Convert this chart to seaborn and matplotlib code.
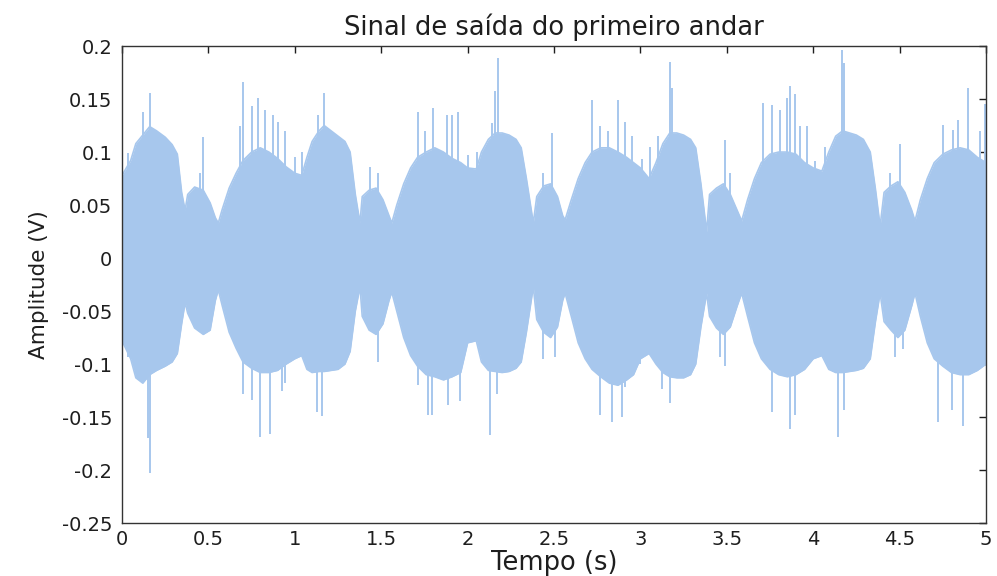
import numpy as np
import pandas as pd
import matplotlib
matplotlib.use("Agg")
import matplotlib.pyplot as plt
import seaborn as sns

# Envelope of the first-stage output signal (seconds, volts)
env_t = [
    0.00, 0.05, 0.08, 0.12, 0.16, 0.20, 0.25, 0.29, 0.32, 0.345, 0.365, 0.38, 0.42, 0.47, 0.51, 0.54, 0.557,
    0.58, 0.62, 0.66, 0.70, 0.75, 0.80, 0.85, 0.90, 0.95,
    1.00, 1.04, 1.07, 1.10, 1.14, 1.17, 1.21, 1.25, 1.29, 1.32, 1.35, 1.377, 1.39, 1.43, 1.47, 1.51, 1.545, 1.561,
    1.59, 1.63, 1.67, 1.71, 1.76, 1.81, 1.86, 1.91, 1.96,
    2.00, 2.05, 2.08, 2.12, 2.16, 2.20, 2.24, 2.28, 2.31, 2.34, 2.38, 2.40, 2.44, 2.48, 2.52, 2.55, 2.564,
    2.60, 2.64, 2.68, 2.72, 2.77, 2.82, 2.87, 2.92, 2.96,
    3.00, 3.05, 3.09, 3.13, 3.17, 3.21, 3.25, 3.29, 3.32, 3.35, 3.383, 3.40, 3.44, 3.48, 3.52, 3.56, 3.586,
    3.62, 3.66, 3.70, 3.75, 3.80, 3.85, 3.90, 3.95,
    4.00, 4.05, 4.09, 4.13, 4.17, 4.21, 4.25, 4.29, 4.33, 4.36, 4.387, 4.41, 4.45, 4.49, 4.53, 4.57, 4.589,
    4.62, 4.66, 4.70, 4.75, 4.80, 4.85, 4.90, 4.95, 5.00,
]
env_hi = [
    0.078, 0.092, 0.108, 0.116, 0.124, 0.120, 0.114, 0.107, 0.098, 0.062, 0.045, 0.060, 0.067, 0.064, 0.052, 0.038, 0.033,
    0.046, 0.066, 0.080, 0.092, 0.100, 0.104, 0.100, 0.094, 0.086,
    0.080, 0.078, 0.095, 0.110, 0.120, 0.125, 0.120, 0.115, 0.110, 0.100, 0.060, 0.033, 0.058, 0.064, 0.066, 0.055, 0.040, 0.033,
    0.050, 0.070, 0.085, 0.095, 0.100, 0.104, 0.100, 0.094, 0.090,
    0.085, 0.084, 0.100, 0.112, 0.118, 0.118, 0.116, 0.112, 0.104, 0.075, 0.033, 0.058, 0.068, 0.070, 0.058, 0.040, 0.036,
    0.055, 0.075, 0.090, 0.100, 0.104, 0.104, 0.100, 0.095, 0.090,
    0.085, 0.075, 0.090, 0.108, 0.118, 0.118, 0.116, 0.112, 0.104, 0.070, 0.025, 0.060, 0.066, 0.070, 0.060, 0.045, 0.035,
    0.055, 0.075, 0.090, 0.098, 0.100, 0.100, 0.098, 0.090,
    0.085, 0.082, 0.100, 0.115, 0.120, 0.118, 0.116, 0.112, 0.100, 0.065, 0.030, 0.062, 0.068, 0.072, 0.062, 0.045, 0.035,
    0.055, 0.075, 0.090, 0.098, 0.102, 0.104, 0.102, 0.095, 0.090,
]
env_lo = [
    -0.078, -0.095, -0.113, -0.118, -0.110, -0.106, -0.102, -0.098, -0.090, -0.062, -0.042, -0.052, -0.066, -0.072, -0.068, -0.040, -0.030,
    -0.045, -0.070, -0.085, -0.098, -0.104, -0.108, -0.108, -0.106, -0.100,
    -0.095, -0.092, -0.105, -0.108, -0.107, -0.107, -0.106, -0.105, -0.100, -0.088, -0.050, -0.027, -0.055, -0.068, -0.072, -0.062, -0.040, -0.032,
    -0.050, -0.075, -0.092, -0.102, -0.110, -0.112, -0.115, -0.112, -0.108,
    -0.080, -0.078, -0.098, -0.106, -0.107, -0.108, -0.107, -0.104, -0.098, -0.070, -0.027, -0.058, -0.070, -0.075, -0.065, -0.040, -0.033,
    -0.055, -0.080, -0.095, -0.105, -0.112, -0.118, -0.120, -0.115, -0.110,
    -0.095, -0.090, -0.100, -0.108, -0.112, -0.113, -0.113, -0.110, -0.100, -0.065, -0.033, -0.055, -0.066, -0.072, -0.065, -0.045, -0.033,
    -0.055, -0.080, -0.095, -0.105, -0.110, -0.112, -0.110, -0.105,
    -0.095, -0.092, -0.105, -0.108, -0.108, -0.107, -0.106, -0.104, -0.095, -0.060, -0.033, -0.060, -0.068, -0.075, -0.068, -0.045, -0.033,
    -0.055, -0.080, -0.095, -0.102, -0.108, -0.110, -0.110, -0.106, -0.100,
]

# Isolated peaks rising above the envelope
peak_up_t = [
    0.037, 0.123, 0.162, 0.451, 0.470, 0.683, 0.702, 0.750, 0.789, 0.828, 0.876, 0.905, 0.943,
    1.000, 1.040, 1.136, 1.171, 1.435, 1.483, 1.715, 1.753, 1.800, 1.879, 1.908, 1.947,
    2.004, 2.052, 2.139, 2.158, 2.174, 2.438, 2.487, 2.718, 2.766, 2.814, 2.872, 2.911,
    2.950, 3.007, 3.056, 3.104, 3.171, 3.180, 3.490, 3.519, 3.711, 3.759, 3.807, 3.846, 3.866, 3.895,
    3.924, 3.962, 4.010, 4.068, 4.165, 4.180, 4.444, 4.502, 4.753, 4.811, 4.840, 4.894, 4.966, 4.995,
]
peak_up_v = [
    0.099, 0.138, 0.156, 0.080, 0.114, 0.125, 0.166, 0.143, 0.151, 0.140, 0.135, 0.128, 0.120,
    0.095, 0.100, 0.135, 0.156, 0.086, 0.080, 0.138, 0.120, 0.142, 0.135, 0.135, 0.138,
    0.097, 0.100, 0.127, 0.158, 0.189, 0.080, 0.118, 0.149, 0.125, 0.120, 0.149, 0.128,
    0.115, 0.093, 0.105, 0.115, 0.185, 0.160, 0.111, 0.080, 0.146, 0.144, 0.140, 0.151, 0.162, 0.155,
    0.125, 0.125, 0.092, 0.105, 0.196, 0.184, 0.080, 0.108, 0.126, 0.121, 0.130, 0.160, 0.120, 0.145,
]
peak_dn_t = [
    0.037, 0.152, 0.162, 0.702, 0.750, 0.798, 0.856, 0.924, 0.943,
    1.127, 1.156, 1.479, 1.715, 1.773, 1.792, 1.889, 1.957,
    2.130, 2.168, 2.438, 2.505, 2.766, 2.833, 2.891, 2.911,
    2.998, 3.123, 3.171, 3.460, 3.490, 3.759, 3.866, 3.895,
    4.141, 4.180, 4.473, 4.521, 4.724, 4.801, 4.868,
]
peak_dn_v = [
    -0.093, -0.170, -0.203, -0.128, -0.134, -0.169, -0.166, -0.125, -0.118,
    -0.145, -0.149, -0.098, -0.120, -0.148, -0.148, -0.139, -0.135,
    -0.167, -0.128, -0.095, -0.093, -0.148, -0.155, -0.150, -0.122,
    -0.100, -0.124, -0.137, -0.093, -0.102, -0.145, -0.161, -0.148,
    -0.169, -0.143, -0.093, -0.086, -0.155, -0.143, -0.158,
]

x_ticks = [0, 0.5, 1, 1.5, 2, 2.5, 3, 3.5, 4, 4.5, 5]
x_labels = ["0", "0.5", "1", "1.5", "2", "2.5", "3", "3.5", "4", "4.5", "5"]
y_ticks = [-0.25, -0.2, -0.15, -0.1, -0.05, 0, 0.05, 0.1, 0.15, 0.2]
y_labels = ["-0.25", "-0.2", "-0.15", "-0.1", "-0.05", "0", "0.05", "0.1", "0.15", "0.2"]

sns.set_theme(style="white")
plt.rcParams["font.family"] = ["DejaVu Sans"]

color = "#a7c7ed"
ink = "#1e1e1e"

fig = plt.figure(figsize=(9.97, 5.76), dpi=100)
ax = fig.add_axes([0.1224, 0.092, 0.8666, 0.828])

env = pd.DataFrame({"t": env_t, "hi": env_hi, "lo": env_lo})
ax.fill_between(env["t"], env["lo"], env["hi"], color=color, linewidth=0)
sns.lineplot(data=env, x="t", y="hi", ax=ax, color=color, linewidth=1.2)
sns.lineplot(data=env, x="t", y="lo", ax=ax, color=color, linewidth=1.2)

ax.vlines(peak_up_t, 0, peak_up_v, color=color, linewidth=1.4)
ax.vlines(peak_dn_t, peak_dn_v, 0, color=color, linewidth=1.4)

ax.set_xlim(0, 5)
ax.set_ylim(-0.25, 0.2)
ax.set_xticks(x_ticks)
ax.set_xticklabels(x_labels)
ax.set_yticks(y_ticks)
ax.set_yticklabels(y_labels)

ax.tick_params(axis="both", which="both", direction="in", length=5, width=1,
               top=True, right=True, labelsize=14, colors=ink)
ax.tick_params(axis="y", pad=7)
ax.tick_params(axis="x", pad=5)
for s in ax.spines.values():
    s.set_visible(True)
    s.set_color("#333333")
    s.set_linewidth(1.0)

ax.set_title("Sinal de saída do primeiro andar", fontsize=18.5, color=ink, pad=8)
ax.set_xlabel("Tempo (s)", fontsize=18.5, color=ink, labelpad=1)
ax.set_ylabel("Amplitude (V)", fontsize=15.5, color=ink, labelpad=9)

fig.savefig("out.png", dpi=100)
